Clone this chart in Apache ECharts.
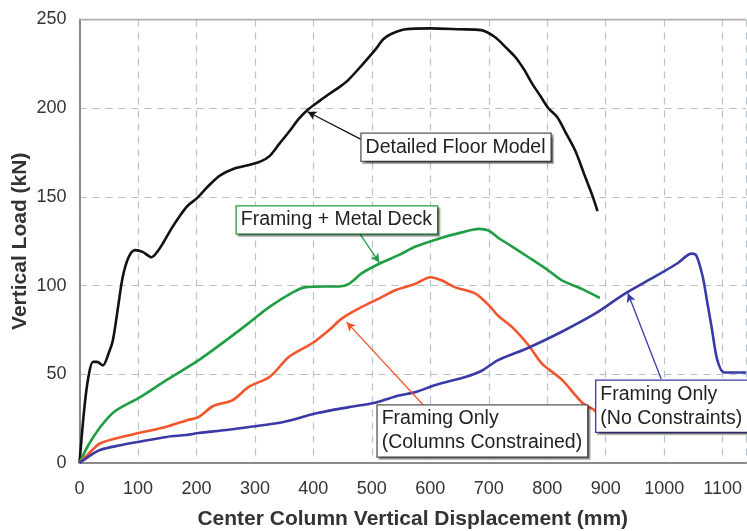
<!DOCTYPE html>
<html><head><meta charset="utf-8">
<script src="https://cdn.jsdelivr.net/npm/echarts@6/dist/echarts.min.js"></script>
<style>html,body{margin:0;padding:0;background:#fff}#c{width:747px;height:531px}</style>
</head><body><div id="c"></div>
<script>
const xTicks = [0,100,200,300,400,500,600,700,800,900,1000,1100];
const yTicks = [0,50,100,150,200,250];
const detailedFloor = [[0,0],[8,30],[15,48],[23,57],[30,57],[40,55],[50,62],[57,69],[66,88],[74,105],[84,116],[95,120],[108,119],[123,116],[133,119],[143,124],[157,132],[171,139],[185,145],[200,149],[220,156],[240,162],[265,166],[290,168],[310,170],[325,173],[342,180],[359,187],[375,194],[390,199],[410,204],[427,208],[445,212],[460,216],[485,225],[506,233],[520,239],[534,242],[558,244.5],[600,245],[650,244.5],[687,244],[711,240],[730,234],[745,229],[760,222],[774,214],[788,207],[802,200],[817,195],[832,186],[848,176],[863,163],[878,150],[886,142]];
const metalDeck = [[0,0],[15,10],[35,20],[60,29],[103,37],[150,47],[204,58],[250,69],[290,79],[325,88],[364,96],[385,99],[420,99.5],[444,99.5],[461,101],[483,107],[517,113],[545,117],[575,122],[620,127],[654,130],[683,132],[700,131],[716,127],[740,122],[768,116],[800,109],[825,103],[860,98],[890,93]];
const colsConstrained = [[0,0],[15,5],[35,11],[70,14.5],[103,17],[149,20.5],[183,24],[204,26],[228,32],[262,35.5],[290,43],[325,48.5],[359,60],[398,67.5],[427,75],[449,81.5],[483,88],[517,93.5],[541,97.5],[575,101],[600,104.7],[619,103],[643,99],[677,95.5],[700,89],[716,83],[740,76.6],[768,66.4],[791,56],[825,47],[860,34],[880,30],[886,27.6]];
const noConstraints = [[0,0],[15,3.5],[35,7.3],[70,10],[103,12],[149,14.7],[183,15.8],[204,16.9],[251,18.6],[290,20.3],[347,23],[405,28],[461,31.5],[506,34],[546,38],[575,40],[609,44],[660,48.5],[688,52],[716,58],[768,65],[825,74],[881,84],[933,95.5],[984,105],[1023,112.6],[1047,118],[1055,117],[1066,105],[1074,90],[1081,77],[1091,58],[1103,51],[1120,51],[1140,51]];
// annotation labels: [text, box left x, box centre y]
const labels = [
  ['Detailed Floor Model', 482.5, 178],
  ['Framing + Metal Deck', 269, 137],
  ['Framing Only\n(Columns Constrained)', 510, 18],
  ['Framing Only\n(No Constraints)', 884, 32]
];
// arrows: [fromX, fromY, toX, toY]
const arrows = [
  [484,182,390,198],
  [479,129.5,513,113],
  [590,32,457,79.4],
  [995,47.3,938,95.7]
];
const colors = ['#111111','#1f9e43','#f2552c','#3a3aa6'];
const boxBorders = ['#555555','#1f9e43','#555555','#3a3aa6'];
const names = ['Detailed Floor Model','Framing + Metal Deck','Framing Only (Columns Constrained)','Framing Only (No Constraints)'];
const datas = [detailedFloor, metalDeck, colsConstrained, noConstraints];
const FF = 'Liberation Sans, Arial, sans-serif';

const chart = echarts.init(document.getElementById('c'));
const series = datas.map((d,i)=>({
  name: names[i], type:'line', data:d, smooth:0.3, showSymbol:false,
  lineStyle:{color:colors[i], width:2.6}, itemStyle:{color:colors[i]},
  z: 3,
  markLine:{silent:true, symbol:['none','arrow'], symbolSize:[7,9],
    lineStyle:{color:colors[i], width:1.3, type:'solid'}, label:{show:false},
    data:[[{coord:[arrows[i][0],arrows[i][1]]},{coord:[arrows[i][2],arrows[i][3]]}]]},
  markPoint:{silent:true, symbol:'rect', symbolSize:1, itemStyle:{color:'rgba(0,0,0,0)'},
    data:[{coord:[labels[i][1],labels[i][2]], value:labels[i][0],
      label:{show:true, position:'inside', formatter:labels[i][0], color:'#222',
        fontFamily:FF, fontSize:19.5, lineHeight:24, align:'left',
        backgroundColor:'#fff', borderColor:boxBorders[i], borderWidth:1.3,
        padding:[2,5,1,4], shadowColor:'rgba(0,0,0,0.35)', shadowOffsetX:2, shadowOffsetY:2, shadowBlur:1}}]}
}));
chart.setOption({
  animation:false,
  grid:{left:79.5, top:19.5, right:1, bottom:68, containLabel:false, outerBoundsMode:'none'},
  xAxis:{type:'value', min:0, max:1140, interval:100,
    name:'Center Column Vertical Displacement (mm)', nameLocation:'middle', nameGap:46,
    nameTextStyle:{fontFamily:FF, fontWeight:'bold', fontSize:21, color:'#333'},
    axisLine:{lineStyle:{color:'#8a8a8a', width:2}}, axisTick:{show:false},
    axisLabel:{fontFamily:FF, fontSize:18, color:'#333', margin:17, showMaxLabel:false, formatter:v=>String(v)},
    splitLine:{show:true, lineStyle:{color:'#b4c4cf', type:[7,6], width:1.2}}},
  yAxis:{type:'value', min:0, max:250, interval:50,
    name:'Vertical Load (kN)', nameLocation:'middle', nameGap:49, nameMoveOverlap:false,
    nameTextStyle:{fontFamily:FF, fontWeight:'bold', fontSize:21, color:'#333'},
    axisLine:{show:true, lineStyle:{color:'#8a8a8a', width:2}}, axisTick:{show:false},
    axisLabel:{fontFamily:FF, fontSize:18, color:'#333', margin:13, formatter:v=>String(v)},
    splitLine:{show:true, lineStyle:{color:'#bcbcbc', type:[7,6], width:1.2}}},
  series: series.concat([{type:'line', data:[[0,250],[1140,250]], showSymbol:false, silent:true,
    lineStyle:{color:'#b0b0b0', width:2}, z:1}])
});
</script></body></html>
